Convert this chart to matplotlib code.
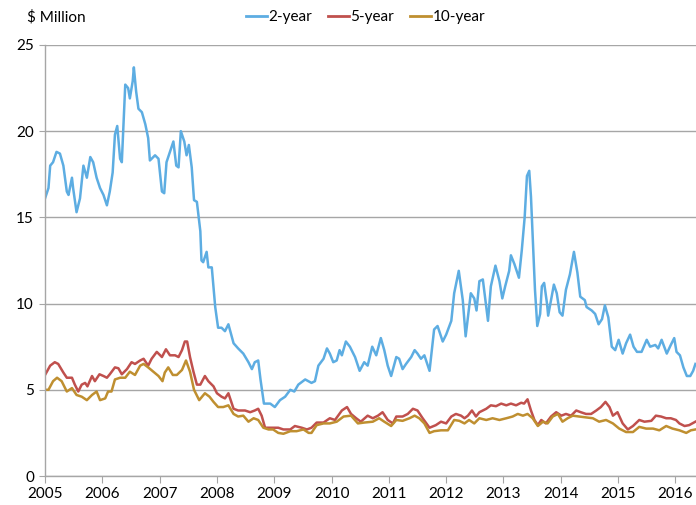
import matplotlib.pyplot as plt
from matplotlib.lines import Line2D

# 2-year series (decimal year, $ million)
t_2y = [2005.00, 2005.06, 2005.09, 2005.14, 2005.20, 2005.26, 2005.32, 2005.38, 2005.41, 2005.47,
        2005.49, 2005.55, 2005.61, 2005.67, 2005.73, 2005.79, 2005.84, 2005.90, 2005.96, 2006.02,
        2006.08, 2006.13, 2006.18, 2006.22, 2006.26, 2006.31, 2006.34, 2006.40, 2006.45, 2006.48,
        2006.53, 2006.55, 2006.59, 2006.63, 2006.69, 2006.75, 2006.80, 2006.83, 2006.92, 2006.98,
        2007.04, 2007.08, 2007.12, 2007.18, 2007.24, 2007.29, 2007.33, 2007.37, 2007.43, 2007.47,
        2007.51, 2007.56, 2007.60, 2007.65, 2007.71, 2007.73, 2007.76, 2007.82, 2007.85, 2007.91,
        2007.97, 2008.02, 2008.08, 2008.14, 2008.20, 2008.29, 2008.37, 2008.46, 2008.55, 2008.61,
        2008.66, 2008.72, 2008.76, 2008.82, 2008.93, 2009.01, 2009.10, 2009.19, 2009.28, 2009.35,
        2009.42, 2009.54, 2009.65, 2009.71, 2009.77, 2009.86, 2009.92, 2009.97, 2010.03, 2010.09,
        2010.14, 2010.18, 2010.25, 2010.32, 2010.41, 2010.49, 2010.57, 2010.63, 2010.71, 2010.78,
        2010.86, 2010.92, 2010.98, 2011.04, 2011.13, 2011.18, 2011.24, 2011.30, 2011.39, 2011.45,
        2011.50, 2011.56, 2011.62, 2011.71, 2011.79, 2011.85, 2011.94, 2012.00, 2012.09, 2012.14,
        2012.22, 2012.29, 2012.34, 2012.38, 2012.43, 2012.49, 2012.53, 2012.58, 2012.64, 2012.73,
        2012.78, 2012.86, 2012.93, 2012.98, 2013.03, 2013.10, 2013.13, 2013.19, 2013.27, 2013.32,
        2013.37, 2013.41, 2013.45, 2013.48, 2013.52, 2013.55, 2013.59, 2013.64, 2013.67, 2013.71,
        2013.76, 2013.78, 2013.84, 2013.88, 2013.93, 2013.98, 2014.03, 2014.09, 2014.16, 2014.23,
        2014.29, 2014.34, 2014.42, 2014.45, 2014.54, 2014.60, 2014.66, 2014.72, 2014.77, 2014.83,
        2014.89, 2014.95, 2015.01, 2015.08, 2015.14, 2015.21, 2015.27, 2015.33, 2015.41, 2015.50,
        2015.56, 2015.65, 2015.70, 2015.76, 2015.85, 2015.92, 2015.98, 2016.02, 2016.08, 2016.14,
        2016.20, 2016.26, 2016.31, 2016.35]
v_2y = [16.1, 16.7, 18.0, 18.2, 18.8, 18.7, 18.0, 16.5, 16.3, 17.3,
        16.7, 15.3, 16.1, 18.0, 17.3, 18.5, 18.2, 17.3, 16.7, 16.3,
        15.7, 16.5, 17.6, 19.8, 20.3, 18.4, 18.2, 22.7, 22.5, 21.9,
        22.9, 23.7, 22.3, 21.3, 21.1, 20.4, 19.6, 18.3, 18.6, 18.4,
        16.5, 16.4, 18.2, 18.8, 19.4, 18.0, 17.9, 20.0, 19.4, 18.6,
        19.2, 17.9, 16.0, 15.9, 14.2, 12.5, 12.4, 13.0, 12.1, 12.1,
        9.8, 8.6, 8.6, 8.4, 8.8, 7.7, 7.4, 7.1, 6.6, 6.2,
        6.6, 6.7, 5.6, 4.2, 4.2, 4.0, 4.4, 4.6, 5.0, 4.9,
        5.3, 5.6, 5.4, 5.5, 6.4, 6.8, 7.4, 7.1, 6.6, 6.7,
        7.3, 7.0, 7.8, 7.5, 6.9, 6.1, 6.6, 6.4, 7.5, 7.0,
        8.0, 7.3, 6.4, 5.8, 6.9, 6.8, 6.2, 6.5, 6.9, 7.3,
        7.1, 6.8, 7.0, 6.1, 8.5, 8.7, 7.8, 8.2, 9.0, 10.6,
        11.9, 10.2, 8.1, 9.2, 10.6, 10.3, 9.6, 11.3, 11.4, 9.0,
        11.0, 12.2, 11.3, 10.3, 11.0, 11.9, 12.8, 12.3, 11.5, 13.1,
        15.0, 17.4, 17.7, 16.2, 13.1, 10.8, 8.7, 9.4, 11.0, 11.2,
        10.0, 9.3, 10.4, 11.1, 10.6, 9.5, 9.3, 10.8, 11.7, 13.0,
        11.8, 10.4, 10.2, 9.8, 9.6, 9.4, 8.8, 9.1, 9.9, 9.2,
        7.5, 7.3, 7.9, 7.1, 7.7, 8.2, 7.5, 7.2, 7.2, 7.9,
        7.5, 7.6, 7.4, 7.9, 7.1, 7.6, 8.0, 7.2, 7.0, 6.3,
        5.8, 5.8, 6.1, 6.5]

# 5-year series
t_5y = [2005.00, 2005.09, 2005.17, 2005.23, 2005.32, 2005.38, 2005.47, 2005.52, 2005.58, 2005.64,
        2005.70, 2005.74, 2005.82, 2005.87, 2005.95, 2006.02, 2006.08, 2006.13, 2006.22, 2006.28,
        2006.34, 2006.43, 2006.51, 2006.57, 2006.66, 2006.72, 2006.80, 2006.86, 2006.95, 2007.04,
        2007.11, 2007.18, 2007.27, 2007.33, 2007.39, 2007.44, 2007.48, 2007.53, 2007.59, 2007.65,
        2007.71, 2007.79, 2007.85, 2007.94, 2008.00, 2008.08, 2008.14, 2008.20, 2008.29, 2008.37,
        2008.49, 2008.58, 2008.66, 2008.72, 2008.78, 2008.84, 2008.96, 2009.07, 2009.16, 2009.28,
        2009.36, 2009.48, 2009.57, 2009.65, 2009.74, 2009.86, 2009.97, 2010.06, 2010.18, 2010.27,
        2010.34, 2010.43, 2010.51, 2010.63, 2010.72, 2010.81, 2010.89, 2010.98, 2011.07, 2011.13,
        2011.24, 2011.33, 2011.42, 2011.50, 2011.59, 2011.71, 2011.82, 2011.91, 2012.00, 2012.09,
        2012.17, 2012.26, 2012.32, 2012.38, 2012.45, 2012.52, 2012.58, 2012.70, 2012.78, 2012.87,
        2012.96, 2013.05, 2013.13, 2013.22, 2013.31, 2013.36, 2013.42, 2013.48, 2013.54, 2013.60,
        2013.66, 2013.74, 2013.83, 2013.92, 2014.01, 2014.09, 2014.18, 2014.27, 2014.35, 2014.44,
        2014.53, 2014.62, 2014.70, 2014.78, 2014.85, 2014.91, 2014.99, 2015.08, 2015.17, 2015.26,
        2015.37, 2015.46, 2015.58, 2015.66, 2015.75, 2015.84, 2015.92, 2016.01, 2016.07, 2016.16,
        2016.24, 2016.35]
v_5y = [5.86, 6.4, 6.6, 6.5, 6.0, 5.7, 5.7, 5.3, 4.9, 5.3,
        5.4, 5.2, 5.8, 5.5, 5.9, 5.8, 5.7, 5.9, 6.3, 6.25,
        5.9, 6.2, 6.6, 6.5, 6.7, 6.8, 6.4, 6.8, 7.2, 6.9,
        7.35, 7.0, 7.0, 6.9, 7.3, 7.8, 7.8, 6.9, 6.05, 5.3,
        5.3, 5.8, 5.5, 5.2, 4.8, 4.6, 4.5, 4.8, 3.9, 3.8,
        3.8, 3.7, 3.8, 3.9, 3.5, 2.8, 2.8, 2.8, 2.7, 2.7,
        2.9, 2.8, 2.7, 2.8, 3.1, 3.1, 3.35, 3.25, 3.8, 4.0,
        3.6, 3.35, 3.15, 3.5, 3.35, 3.5, 3.7, 3.25, 3.05, 3.45,
        3.45, 3.6, 3.9, 3.8, 3.35, 2.8, 2.95, 3.15, 3.05, 3.45,
        3.6, 3.5, 3.35, 3.5, 3.8, 3.45, 3.7, 3.9, 4.1, 4.05,
        4.2, 4.1, 4.2, 4.1, 4.25, 4.2, 4.45, 3.8, 3.25, 2.95,
        3.25, 3.05, 3.45, 3.7, 3.5, 3.6, 3.5, 3.8, 3.7, 3.6,
        3.6, 3.8, 4.0, 4.3, 4.0, 3.5, 3.7, 3.05, 2.7, 2.9,
        3.25, 3.15, 3.2, 3.5, 3.45, 3.35, 3.35, 3.25, 3.05, 2.9,
        2.95, 3.15]

# 10-year series
t_10y = [2005.00, 2005.06, 2005.14, 2005.21, 2005.29, 2005.38, 2005.47, 2005.55, 2005.64, 2005.73,
         2005.82, 2005.90, 2005.96, 2006.05, 2006.10, 2006.16, 2006.22, 2006.31, 2006.40, 2006.48,
         2006.57, 2006.66, 2006.72, 2006.80, 2006.89, 2006.98, 2007.05, 2007.09, 2007.15, 2007.23,
         2007.30, 2007.39, 2007.46, 2007.53, 2007.60, 2007.69, 2007.79, 2007.87, 2007.94, 2008.02,
         2008.11, 2008.20, 2008.29, 2008.37, 2008.46, 2008.55, 2008.64, 2008.72, 2008.81, 2008.90,
         2008.98, 2009.07, 2009.16, 2009.28, 2009.39, 2009.51, 2009.60, 2009.65, 2009.74, 2009.86,
         2009.97, 2010.09, 2010.21, 2010.34, 2010.46, 2010.57, 2010.72, 2010.83, 2010.92, 2011.04,
         2011.13, 2011.24, 2011.36, 2011.45, 2011.53, 2011.62, 2011.71, 2011.79, 2011.91, 2012.03,
         2012.14, 2012.23, 2012.32, 2012.40, 2012.49, 2012.58, 2012.70, 2012.81, 2012.93, 2013.05,
         2013.16, 2013.25, 2013.34, 2013.42, 2013.51, 2013.60, 2013.69, 2013.77, 2013.86, 2013.95,
         2014.03, 2014.12, 2014.21, 2014.32, 2014.44, 2014.56, 2014.67, 2014.79, 2014.91, 2015.02,
         2015.14, 2015.26, 2015.37, 2015.49, 2015.61, 2015.72, 2015.84, 2015.95, 2016.07, 2016.19,
         2016.27, 2016.35]
v_10y = [5.0, 5.0, 5.5, 5.7, 5.5, 4.9, 5.1, 4.7, 4.6, 4.4,
         4.7, 4.9, 4.4, 4.5, 4.9, 4.9, 5.6, 5.7, 5.7, 6.05,
         5.86, 6.4, 6.5, 6.3, 6.05, 5.8, 5.5, 6.0, 6.3, 5.86,
         5.86, 6.15, 6.7, 6.05, 5.0, 4.4, 4.8, 4.6, 4.3, 4.0,
         4.0, 4.1, 3.6, 3.45, 3.5, 3.15, 3.35, 3.25, 2.8, 2.7,
         2.7, 2.5, 2.45, 2.6, 2.6, 2.7, 2.5, 2.5, 2.95, 3.05,
         3.05, 3.15, 3.45, 3.5, 3.05, 3.1, 3.15, 3.35, 3.15, 2.9,
         3.25, 3.2, 3.35, 3.5, 3.35, 3.05, 2.5, 2.6, 2.65, 2.65,
         3.25, 3.2, 3.05, 3.25, 3.05, 3.35, 3.25, 3.35, 3.25, 3.35,
         3.45, 3.6, 3.5, 3.6, 3.35, 2.9, 3.15, 3.05, 3.45, 3.6,
         3.15, 3.35, 3.5, 3.45, 3.4, 3.35, 3.15, 3.25, 3.05, 2.75,
         2.55, 2.55, 2.85, 2.75, 2.75, 2.65, 2.9, 2.75, 2.65, 2.5,
         2.65, 2.7]

years = list(range(2005, 2017))
y_ticks = [0, 5, 10, 15, 20, 25]

plt.rcParams['font.family'] = ['Lato', 'DejaVu Sans']

fig = plt.figure(figsize=(6.96, 5.05), dpi=100)
ax = fig.add_axes([0.0647, 0.0574, 0.9353, 0.8536])

ax.plot(t_2y, v_2y, color='#5dade2', lw=1.8, label='2-year')
ax.plot(t_5y, v_5y, color='#c0504d', lw=1.8, label='5-year')
ax.plot(t_10y, v_10y, color='#bf8f30', lw=1.8, label='10-year')

ax.set_xlim(2005, 2016.36)
ax.set_ylim(0, 25)
ax.set_xticks(years)
ax.set_xticklabels([str(y) for y in years])
ax.set_yticks(y_ticks)

# grid lines like the excel style
ax.yaxis.grid(True, color='#a6a6a6', lw=1)
ax.set_axisbelow(True)
for s in ['top', 'right']:
    ax.spines[s].set_visible(False)
for s in ['left', 'bottom']:
    ax.spines[s].set_color('#a6a6a6')
    ax.spines[s].set_linewidth(1)
ax.tick_params(axis='x', length=5, color='#a6a6a6', labelsize=11, pad=3)
ax.tick_params(axis='y', length=4, color='#a6a6a6', labelsize=11, pad=4)

fig.text(0.039, 0.966, '$ Million', fontsize=11, va='center', ha='left')

handles = [Line2D([], [], color='#5dade2', lw=2),
           Line2D([], [], color='#c0504d', lw=2),
           Line2D([], [], color='#bf8f30', lw=2)]
fig.legend(handles, ['2-year', '5-year', '10-year'], loc='center', ncol=3,
           bbox_to_anchor=(0.525, 0.966), frameon=False, fontsize=11,
           handlelength=1.4, handletextpad=0.1, columnspacing=1.0)

plt.savefig('out.png', dpi=100, facecolor='white')
plt.close()
